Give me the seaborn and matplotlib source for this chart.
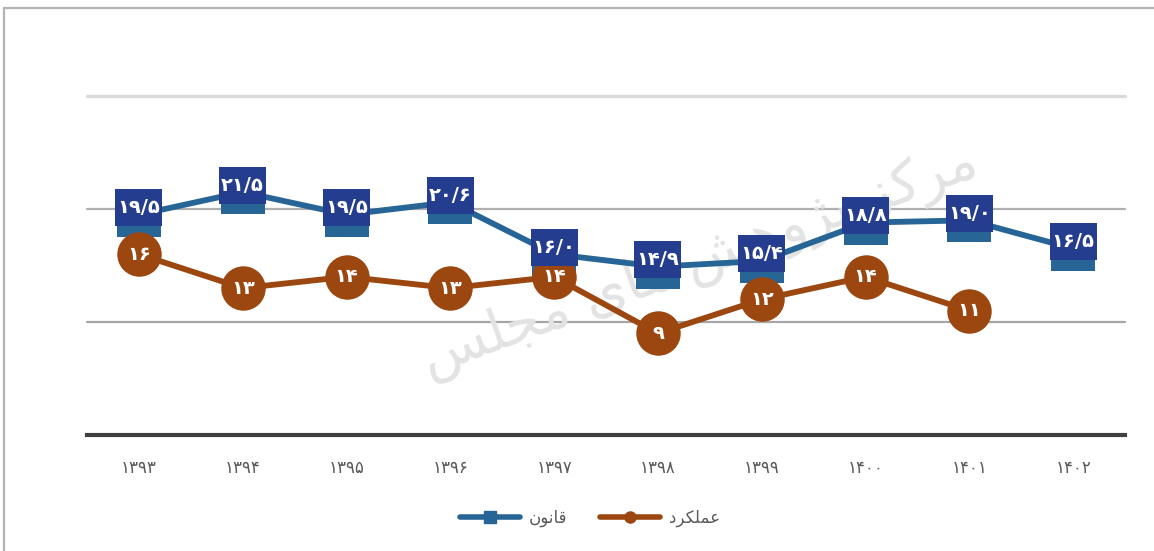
import numpy as np
import matplotlib as mpl
_ = mpl.use('Agg')
import matplotlib.pyplot as plt
import seaborn as sns
from matplotlib.path import Path
from matplotlib.lines import Line2D

# data (Persian years)
years = ['۱۳۹۳', '۱۳۹۴', '۱۳۹۵', '۱۳۹۶', '۱۳۹۷', '۱۳۹۸', '۱۳۹۹', '۱۴۰۰', '۱۴۰۱', '۱۴۰۲']
qanun = [19.5, 21.5, 19.5, 20.6, 16.0, 14.9, 15.4, 18.8, 19.0, 16.5]
qanun_labels = ['۱۹/۵', '۲۱/۵', '۱۹/۵', '۲۰/۶', '۱۶/۰', '۱۴/۹', '۱۵/۴', '۱۸/۸', '۱۹/۰', '۱۶/۵']
amalkard = [16, 13, 14, 13, 14, 9, 12, 14, 11]
amalkard_labels = ['۱۶', '۱۳', '۱۴', '۱۳', '۱۴', '۹', '۱۲', '۱۴', '۱۱']

# legend names, written in visual order with presentation forms (no shaping in mpl)
name_qanun = '\uFEE5\uFEEE\uFEE7\uFE8E\uFED7'            # قانون
name_amalkard = '\uFEA9\uFEAE\uFB91\uFEE0\uFEE4\uFECB'   # عملکرد
watermark = ('\uFEB2\uFEE0\uFEA0\uFEE3 \uFBFC\uFE8E\uFEEB '
             '\uFEB6\uFEEB\uFEED\uFB8B\uFB58 \uFEB0\uFB90\uFEAE\uFEE3')  # مرکز پژوهشهای مجلس

blue = '#286597'
navy = '#253d8f'
orange = '#9c4710'
grey_txt = '#595959'

sns.set_style('white')
plt.rcParams['font.family'] = ['DejaVu Sans']

fig = plt.figure(figsize=(11.54, 5.51), dpi=100)
W, H = 1154.0, 551.0
ax = fig.add_axes([87 / W, 1 - 435 / H, (1125 - 87) / W, (435 - 96) / H])

x = np.arange(len(years))

# watermark
ax.text(0.59, 0.51, watermark, transform=ax.transAxes, rotation=20, ha='center', va='center',
        fontsize=40, color='#e3e3e3', zorder=1)

# grid
for v, c, lw in [(10, '#a6a6a6', 1.6), (20, '#b0b0b0', 1.6), (30, '#d9d9d9', 2.4)]:
    ax.axhline(v, color=c, lw=lw, zorder=0, clip_on=False)

sns.lineplot(x=x, y=qanun, ax=ax, color=blue, linewidth=4.2, marker='s', markersize=31.5,
             markeredgewidth=0, sort=False, label=name_qanun, zorder=3, legend=False)
sns.lineplot(x=x[:len(amalkard)], y=amalkard, ax=ax, color=orange, linewidth=4.2, marker='o',
             markersize=32, markeredgewidth=0, sort=False, label=name_amalkard, zorder=4, legend=False)


def label_box(x0, y0, width, height, mutation_size):
    # fixed 47x37 px box around the label centre
    cx, cy = x0 + width / 2, y0 + height / 2
    hw, hh = 23.5, 18.5
    return Path([(cx - hw, cy - hh), (cx + hw, cy - hh), (cx + hw, cy + hh),
                 (cx - hw, cy + hh), (cx - hw, cy - hh)], closed=True)


for i, (v, t) in enumerate(zip(qanun, qanun_labels)):
    ax.annotate(t, (i, v), xytext=(0, 7), textcoords='offset pixels', ha='center', va='center',
                color='white', fontsize=14, fontweight='bold', zorder=6,
                bbox=dict(boxstyle=label_box, fc=navy, ec='none'))

for i, (v, t) in enumerate(zip(amalkard, amalkard_labels)):
    ax.annotate(t, (i, v), xytext=(0, 0), textcoords='offset pixels', ha='center', va='center',
                color='white', fontsize=14, fontweight='bold', zorder=7)

ax.set_xlim(-0.5, len(years) - 0.5)
ax.set_ylim(0, 30)
ax.set_xticks(x)
ax.set_xticklabels(years, color=grey_txt, fontsize=12)
ax.set_yticks([])
ax.tick_params(axis='x', length=0, pad=17)
for s in ['top', 'right', 'left']:
    ax.spines[s].set_visible(False)
ax.spines['bottom'].set_color('#404040')
ax.spines['bottom'].set_linewidth(3)
ax.spines['bottom'].set_zorder(2)

handles = [Line2D([], [], color=blue, lw=4, marker='s', markersize=8),
           Line2D([], [], color=orange, lw=4, marker='o', markersize=8)]
fig.legend(handles, [name_qanun, name_amalkard], loc='center', ncol=2, frameon=False,
           bbox_to_anchor=(590 / W, 1 - 518 / H), fontsize=12, labelcolor=grey_txt,
           handlelength=3.6, columnspacing=2.0, handletextpad=0.5)

# outer chart frame (top and left edges visible)
fig.add_artist(Line2D([4 / W, 1], [1 - 8 / H, 1 - 8 / H], color='#b3b3b3', lw=1.6))
fig.add_artist(Line2D([4 / W, 4 / W], [0, 1 - 8 / H], color='#b3b3b3', lw=1.6))

plt.savefig('out.png', dpi=100)
